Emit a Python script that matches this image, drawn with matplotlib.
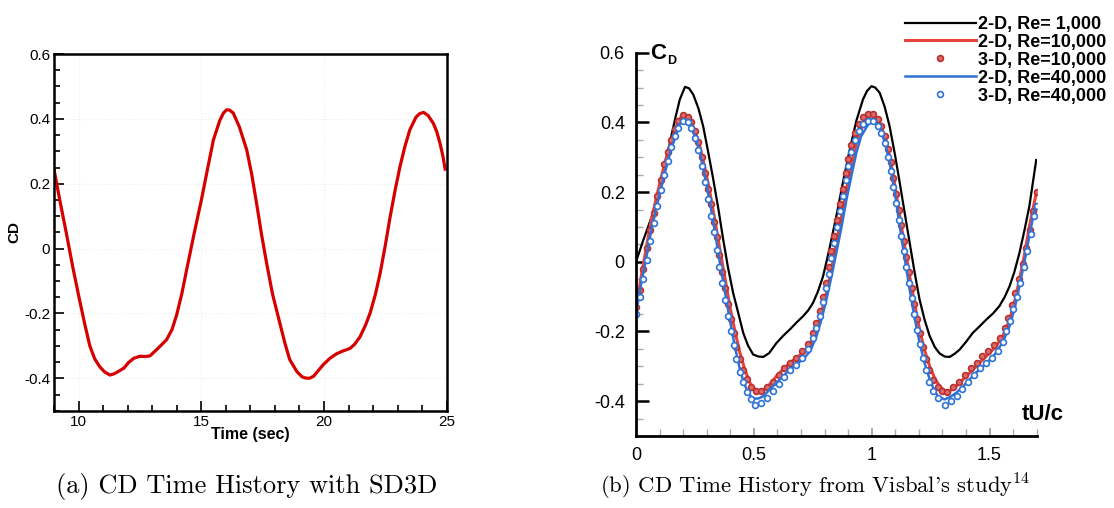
import matplotlib.pyplot as plt
from matplotlib.ticker import MultipleLocator, FixedLocator, FixedFormatter

plt.rcParams['mathtext.fontset'] = 'cm'

# (a) CD time history with SD3D
time_a = [9.0, 9.25, 9.5, 9.75, 10.0, 10.25, 10.45, 10.65, 10.86, 11.05, 11.27, 11.45,
          11.68, 11.85, 12.02, 12.25, 12.5, 12.7, 12.9, 13.2, 13.58, 13.8, 13.99, 14.2,
          14.4, 14.7, 15.0, 15.25, 15.49, 15.75, 15.9, 16.03, 16.15, 16.3, 16.55, 16.85, 17.05, 17.25,
          17.45, 17.66, 17.9, 18.2, 18.4, 18.6, 18.9, 19.1, 19.23, 19.4, 19.57, 19.97, 20.25,
          20.52, 20.8, 21.06, 21.25, 21.47, 21.7, 21.88, 22.1, 22.29, 22.5, 22.7, 22.9,
          23.1, 23.3, 23.5, 23.75, 23.9, 24.06, 24.25, 24.46, 24.6, 24.73, 24.85, 24.94]
cd_a = [0.24, 0.14, 0.045, -0.055, -0.147, -0.235, -0.30, -0.34, -0.365, -0.38, -0.39, -0.386,
        -0.376, -0.368, -0.352, -0.338, -0.332, -0.333, -0.331, -0.31, -0.281, -0.25, -0.205, -0.14,
        -0.065, 0.045, 0.15, 0.245, 0.335, 0.395, 0.418, 0.428, 0.427, 0.418, 0.375, 0.304, 0.23, 0.14,
        0.045, -0.045, -0.14, -0.23, -0.29, -0.342, -0.38, -0.395, -0.399, -0.4, -0.394, -0.358, -0.338,
        -0.324, -0.315, -0.308, -0.295, -0.272, -0.235, -0.199, -0.14, -0.076, 0.01, 0.099, 0.18,
        0.253, 0.315, 0.366, 0.405, 0.416, 0.42, 0.41, 0.386, 0.36, 0.325, 0.285, 0.245]

# (b) Visbal's study
t_re1k = [0.0, 0.03, 0.073, 0.11, 0.144, 0.166, 0.186, 0.208, 0.225, 0.243, 0.265, 0.285, 0.305,
          0.328, 0.35, 0.37, 0.39, 0.412, 0.435, 0.455, 0.475, 0.497, 0.52, 0.54, 0.565,
          0.596, 0.625, 0.653, 0.68, 0.709, 0.73, 0.751, 0.772, 0.794, 0.82, 0.85, 0.88,
          0.907, 0.935, 0.963, 0.98, 0.999, 1.015, 1.034, 1.055, 1.076, 1.098, 1.119, 1.14,
          1.161, 1.182, 1.203, 1.225, 1.246, 1.268, 1.288, 1.31, 1.331, 1.352, 1.373, 1.4,
          1.429, 1.458, 1.486, 1.515, 1.542, 1.565, 1.585, 1.605, 1.627, 1.648, 1.669, 1.698]
cd_re1k = [0.0, 0.06, 0.141, 0.245, 0.342, 0.41, 0.466, 0.502, 0.498, 0.48, 0.44, 0.389, 0.32,
           0.236, 0.15, 0.064, -0.015, -0.089, -0.15, -0.204, -0.24, -0.266, -0.272, -0.273, -0.262,
           -0.233, -0.212, -0.194, -0.175, -0.156, -0.14, -0.118, -0.085, -0.041, 0.035, 0.131, 0.235,
           0.322, 0.405, 0.466, 0.49, 0.504, 0.5, 0.485, 0.445, 0.389, 0.31, 0.227, 0.14,
           0.055, -0.03, -0.108, -0.168, -0.213, -0.245, -0.263, -0.272, -0.273, -0.264, -0.252, -0.23,
           -0.204, -0.185, -0.166, -0.148, -0.127, -0.1, -0.07, -0.03, 0.026, 0.09, 0.16, 0.292]

t_re10k = [0.0, 0.02, 0.045, 0.065, 0.088, 0.11, 0.13, 0.15, 0.172, 0.186, 0.2, 0.215, 0.229,
           0.25, 0.271, 0.292, 0.314, 0.335, 0.356, 0.377, 0.398, 0.42, 0.441, 0.462, 0.483,
           0.5, 0.518, 0.536, 0.554, 0.575, 0.596, 0.625, 0.653, 0.68, 0.709, 0.74, 0.766,
           0.787, 0.808, 0.83, 0.85, 0.872, 0.893, 0.915, 0.935, 0.955, 0.977, 0.999, 1.015,
           1.034, 1.055, 1.076, 1.098, 1.119, 1.14, 1.161, 1.182, 1.203, 1.225, 1.246, 1.268,
           1.288, 1.316, 1.337, 1.359, 1.387, 1.415, 1.443, 1.472, 1.5, 1.528, 1.558, 1.585,
           1.606, 1.627, 1.648, 1.669, 1.7]
cd_re10k = [-0.142, -0.05, 0.045, 0.12, 0.189, 0.25, 0.303, 0.35, 0.389, 0.41, 0.423, 0.42, 0.409,
            0.375, 0.332, 0.27, 0.198, 0.118, 0.035, -0.045, -0.127, -0.2, -0.261, -0.31, -0.347,
            -0.363, -0.371, -0.37, -0.362, -0.346, -0.328, -0.308, -0.29, -0.276, -0.261, -0.235, -0.194,
            -0.145, -0.089, -0.02, 0.055, 0.13, 0.208, 0.28, 0.342, 0.38, 0.405, 0.425, 0.418,
            0.399, 0.36, 0.303, 0.22, 0.131, 0.045, -0.041, -0.12, -0.194, -0.255, -0.3, -0.335,
            -0.357, -0.374, -0.368, -0.357, -0.338, -0.319, -0.3, -0.28, -0.262, -0.242, -0.21, -0.166,
            -0.115, -0.051, 0.02, 0.102, 0.203]

t_re40k = [0.0, 0.02, 0.045, 0.065, 0.088, 0.11, 0.13, 0.15, 0.172, 0.186, 0.2, 0.215, 0.229,
           0.25, 0.271, 0.292, 0.314, 0.335, 0.356, 0.377, 0.398, 0.42, 0.441, 0.458, 0.476,
           0.49, 0.504, 0.52, 0.54, 0.565, 0.596, 0.625, 0.653, 0.68, 0.709, 0.74, 0.766,
           0.787, 0.808, 0.83, 0.85, 0.872, 0.893, 0.915, 0.935, 0.955, 0.977, 0.999, 1.015,
           1.034, 1.055, 1.076, 1.098, 1.119, 1.14, 1.161, 1.182, 1.203, 1.225, 1.246, 1.265,
           1.281, 1.309, 1.333, 1.359, 1.387, 1.415, 1.443, 1.472, 1.5, 1.528, 1.558, 1.585,
           1.606, 1.627, 1.648, 1.669, 1.695]
cd_re40k = [-0.151, -0.07, 0.016, 0.09, 0.16, 0.22, 0.275, 0.325, 0.37, 0.395, 0.409, 0.405, 0.394,
            0.36, 0.313, 0.245, 0.17, 0.085, -0.003, -0.085, -0.166, -0.245, -0.309, -0.348, -0.376,
            -0.388, -0.393, -0.392, -0.386, -0.368, -0.347, -0.328, -0.309, -0.294, -0.28, -0.255, -0.213,
            -0.165, -0.108, -0.04, 0.026, 0.1, 0.179, 0.25, 0.313, 0.36, 0.385, 0.409, 0.402,
            0.385, 0.345, 0.285, 0.2, 0.102, 0.01, -0.079, -0.16, -0.232, -0.292, -0.337, -0.368,
            -0.386, -0.395, -0.388, -0.376, -0.358, -0.338, -0.318, -0.3, -0.282, -0.261, -0.228, -0.185,
            -0.135, -0.07, 0.0, 0.074, 0.165]

t_3d10k = [0.0, 0.015, 0.03, 0.045, 0.06, 0.075, 0.09, 0.105, 0.12, 0.135, 0.15, 0.165, 0.18, 0.2,
           0.22, 0.235, 0.25, 0.265, 0.28, 0.293, 0.306, 0.318, 0.33, 0.342, 0.354, 0.366, 0.378,
           0.39, 0.402, 0.414, 0.426, 0.44, 0.455, 0.47, 0.49, 0.51, 0.53, 0.555, 0.58, 0.605,
           0.63, 0.655, 0.68, 0.705, 0.73, 0.75, 0.765, 0.78, 0.793, 0.805, 0.817, 0.829, 0.841,
           0.853, 0.865, 0.877, 0.889, 0.901, 0.914, 0.928, 0.945, 0.965, 0.985, 1.005, 1.025,
           1.04, 1.055, 1.068, 1.08, 1.092, 1.103, 1.114, 1.125, 1.136, 1.147, 1.158, 1.169,
           1.18, 1.192, 1.204, 1.217, 1.23, 1.245, 1.262, 1.28, 1.3, 1.32, 1.345, 1.37, 1.395,
           1.42, 1.445, 1.47, 1.495, 1.52, 1.545, 1.565, 1.58, 1.595, 1.61, 1.625, 1.64, 1.655,
           1.67, 1.685, 1.7]
cd_3d10k = [-0.13, -0.08, -0.02, 0.04, 0.09, 0.14, 0.19, 0.235, 0.28, 0.315, 0.35, 0.38, 0.405, 0.42,
            0.415, 0.4, 0.375, 0.345, 0.3, 0.255, 0.21, 0.165, 0.115, 0.07, 0.02, -0.03, -0.075,
            -0.12, -0.165, -0.205, -0.245, -0.28, -0.31, -0.335, -0.36, -0.37, -0.37, -0.36, -0.345, -0.325,
            -0.305, -0.29, -0.275, -0.255, -0.235, -0.205, -0.175, -0.14, -0.1, -0.06, -0.015, 0.03, 0.075,
            0.12, 0.165, 0.21, 0.255, 0.295, 0.335, 0.37, 0.395, 0.415, 0.425, 0.425, 0.41,
            0.39, 0.36, 0.325, 0.285, 0.24, 0.195, 0.15, 0.105, 0.06, 0.015, -0.03, -0.075,
            -0.12, -0.165, -0.205, -0.245, -0.28, -0.31, -0.34, -0.36, -0.37, -0.375, -0.36, -0.345, -0.325,
            -0.305, -0.29, -0.27, -0.255, -0.24, -0.22, -0.19, -0.16, -0.125, -0.09, -0.05, -0.005, 0.04,
            0.09, 0.145, 0.2]

t_3d40k = [0.0, 0.015, 0.03, 0.045, 0.06, 0.075, 0.09, 0.105, 0.12, 0.135, 0.15, 0.165, 0.18, 0.2,
           0.22, 0.235, 0.25, 0.265, 0.28, 0.293, 0.306, 0.318, 0.33, 0.342, 0.354, 0.366, 0.378,
           0.39, 0.402, 0.414, 0.426, 0.44, 0.455, 0.47, 0.49, 0.505, 0.53, 0.555, 0.58, 0.605,
           0.63, 0.655, 0.68, 0.705, 0.73, 0.75, 0.765, 0.78, 0.793, 0.805, 0.817, 0.829, 0.841,
           0.853, 0.865, 0.877, 0.889, 0.901, 0.914, 0.928, 0.945, 0.965, 0.985, 1.005, 1.025,
           1.04, 1.055, 1.068, 1.08, 1.092, 1.103, 1.114, 1.125, 1.136, 1.147, 1.158, 1.169,
           1.18, 1.192, 1.204, 1.217, 1.23, 1.245, 1.262, 1.28, 1.31, 1.335, 1.36, 1.385, 1.41,
           1.435, 1.46, 1.485, 1.51, 1.535, 1.555, 1.57, 1.585, 1.6, 1.615, 1.63, 1.645, 1.66,
           1.675, 1.69, 1.7]
cd_3d40k = [-0.15, -0.1, -0.05, 0.005, 0.06, 0.11, 0.16, 0.205, 0.25, 0.29, 0.33, 0.36, 0.385, 0.405,
            0.4, 0.385, 0.355, 0.32, 0.275, 0.23, 0.18, 0.13, 0.085, 0.035, -0.015, -0.06, -0.11,
            -0.155, -0.2, -0.24, -0.28, -0.315, -0.345, -0.375, -0.395, -0.41, -0.405, -0.39, -0.37, -0.35,
            -0.33, -0.31, -0.295, -0.275, -0.25, -0.22, -0.19, -0.155, -0.115, -0.075, -0.035, 0.01, 0.055,
            0.1, 0.145, 0.19, 0.235, 0.275, 0.315, 0.35, 0.375, 0.395, 0.405, 0.405, 0.39,
            0.37, 0.34, 0.3, 0.26, 0.215, 0.17, 0.12, 0.075, 0.03, -0.015, -0.06, -0.105,
            -0.15, -0.195, -0.235, -0.275, -0.31, -0.345, -0.37, -0.39, -0.41, -0.4, -0.385, -0.365, -0.345,
            -0.325, -0.305, -0.29, -0.275, -0.255, -0.23, -0.2, -0.17, -0.135, -0.1, -0.06, -0.015, 0.03,
            0.08, 0.13, 0.16]

yticks = [-0.4, -0.2, 0, 0.2, 0.4, 0.6]
ytick_labels = ['-0.4', '-0.2', '0', '0.2', '0.4', '0.6']

fig = plt.figure(figsize=(11.14, 5.08), dpi=100)

# ---- left panel ----
ax1 = fig.add_axes([0.0487, 0.1915, 0.3522, 0.7022])
ax1.plot(time_a, cd_a, color='#d60000', lw=2.3, solid_joinstyle='round')
ax1.set_xlim(9, 25)
ax1.set_ylim(-0.5, 0.6)
ax1.xaxis.set_major_locator(FixedLocator([10, 15, 20, 25]))
ax1.xaxis.set_minor_locator(MultipleLocator(1))
ax1.yaxis.set_major_locator(FixedLocator(yticks))
ax1.yaxis.set_major_formatter(FixedFormatter(ytick_labels))
ax1.yaxis.set_minor_locator(MultipleLocator(0.05))
ax1.tick_params(which='both', direction='in', top=False, right=False, width=1.2, labelsize=11, pad=3)
ax1.tick_params(which='major', length=7)
ax1.tick_params(which='minor', length=4)
for lab in ax1.get_xticklabels() + ax1.get_yticklabels():
    lab.set_family('Liberation Sans')
for s in ax1.spines.values():
    s.set_linewidth(1.8)
ax1.grid(True, which='major', color='#eeeeee', ls=':', lw=0.8)
ax1.set_xlabel('Time (sec)', fontsize=11.5, fontweight='bold', family='Liberation Sans', labelpad=-1)
ax1.set_ylabel('CD', fontsize=11, fontweight='bold', family='Liberation Sans', labelpad=2)

# ---- right panel ----
ax2 = fig.add_axes([0.5709, 0.1417, 0.3597, 0.7545])
ax2.plot(t_re1k, cd_re1k, color='black', lw=1.6, label='2-D, Re= 1,000')
ax2.plot(t_re10k, cd_re10k, color='#e8433a', lw=2.2, label='2-D, Re=10,000')
ax2.plot(t_3d10k, cd_3d10k, ls='none', marker='o', ms=4.2, mfc='#dc6a6a', mec='#b83030',
         mew=1.2, label='3-D, Re=10,000')
ax2.plot(t_re40k, cd_re40k, color='#2f72d6', lw=1.8, label='2-D, Re=40,000')
ax2.plot(t_3d40k, cd_3d40k, ls='none', marker='o', ms=4.2, mfc='white', mec='#2f72d6',
         mew=1.2, label='3-D, Re=40,000')
ax2.set_xlim(0, 1.7)
ax2.set_ylim(-0.5, 0.6)
ax2.spines['top'].set_visible(False)
ax2.spines['right'].set_visible(False)
for s in ('left', 'bottom'):
    ax2.spines[s].set_linewidth(2.0)
ax2.xaxis.set_major_locator(FixedLocator([0, 0.5, 1, 1.5]))
ax2.xaxis.set_major_formatter(FixedFormatter(['0', '0.5', '1', '1.5']))
ax2.xaxis.set_minor_locator(MultipleLocator(0.1))
ax2.yaxis.set_major_locator(FixedLocator(yticks))
ax2.yaxis.set_major_formatter(FixedFormatter(ytick_labels))
ax2.yaxis.set_minor_locator(MultipleLocator(0.05))
ax2.tick_params(which='both', direction='in', top=False, right=False, labelsize=13, pad=8)
ax2.tick_params(axis='y', which='major', length=9, width=1.8, color='black')
ax2.tick_params(axis='x', which='major', length=6, width=1.2, color='#999999')
ax2.tick_params(which='minor', length=5, width=1.0, color='#aaaaaa')
for lab in ax2.get_xticklabels() + ax2.get_yticklabels():
    lab.set_family('Liberation Sans')
ax2.text(0.093, 0.598, 'C', fontsize=16, fontweight='bold', family='Liberation Sans',
         ha='center', va='center')
ax2.text(0.152, 0.575, 'D', fontsize=9, fontweight='bold', family='Liberation Sans',
         ha='center', va='center')
ax2.text(1.726, -0.438, 'tU/c', fontsize=16, fontweight='bold', family='Liberation Sans',
         ha='center', va='center', clip_on=False)
fig.legend(loc='upper right', bbox_to_anchor=(1.003, 0.99), frameon=False,
           handlelength=3.9, handletextpad=0.15, labelspacing=0.05, borderaxespad=0.2,
           prop={'family': 'Liberation Sans', 'size': 13, 'weight': 'bold'})

# captions
fig.text(0.2215, 0.0295, '(a) CD Time History with SD3D', family='cmr10', fontsize=19,
         ha='center', va='baseline')
fig.text(0.7316, 0.0295, "(b) CD Time History from Visbal's study$^{14}$", family='cmr10',
         fontsize=16.3, ha='center', va='baseline')

fig.savefig('out.png', dpi=100)
